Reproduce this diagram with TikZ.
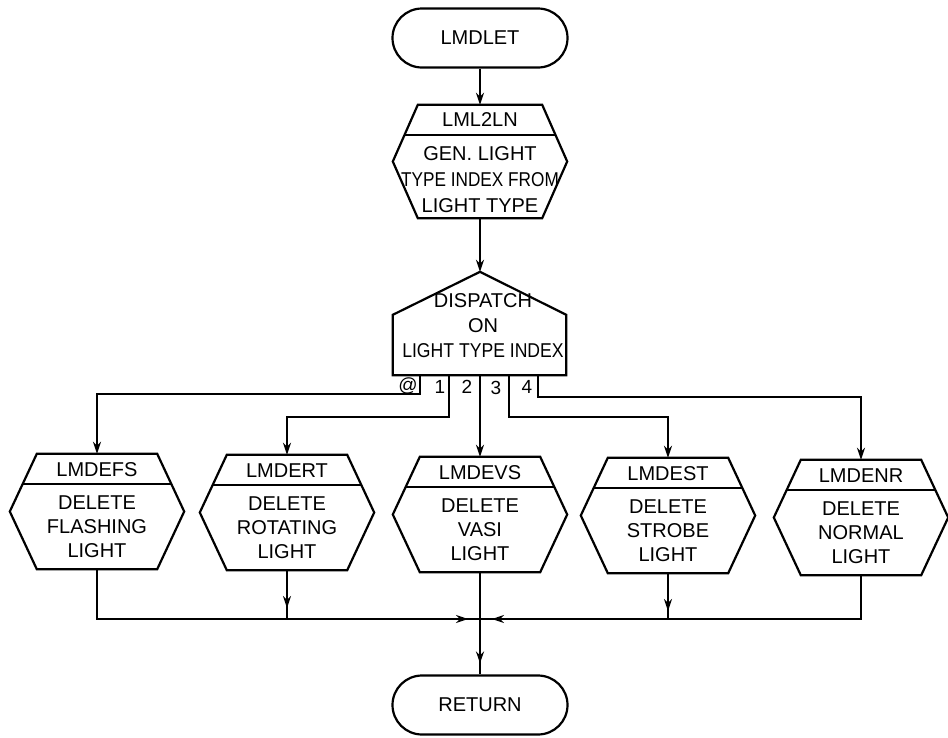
\documentclass[tikz,border=0pt]{standalone}
\usepackage{fontspec}
\setmainfont{Liberation Sans}
\usetikzlibrary{calc,arrows.meta,shapes.misc}

% Procedure box: hexagon with a title strip on top
\newcommand\hexproc[5]{%
  \node[hexcore] (#1) at (#2,#3) {};
  \draw[line] (#1.north west) -- (#1.north east) -- ($(#1.east)+(27,0)$)
    -- (#1.south east) -- (#1.south west) -- ($(#1.west)+(-27,0)$) -- cycle;
  \draw[line] ($(#1.north)+(-74,30)$) -- ($(#1.north)+(74,30)$);
  \node[lbl] (#1-title) at ($(#1.north)+(0,16)$) {#4};
  \node[lbl] (#1-text) at ($(#1.north)+(0,73)$) {#5};
}

\begin{document}
\begin{tikzpicture}[x=1pt,y=-1pt,
  line/.style={line width=2.2pt, line join=miter},
  tip/.style={-{Stealth[length=12pt,width=8pt]}},
  flow/.style={line, tip},
  term/.style={draw, line width=2.2pt, shape=rounded rectangle, minimum width=175pt,
    minimum height=59pt, inner sep=0pt, font=\fontsize{20}{24}\selectfont},
  hexcore/.style={minimum width=120pt, minimum height=115pt, inner sep=0pt},
  lbl/.style={font=\fontsize{20}{24}\selectfont, align=center, inner sep=0pt},
  idx/.style={font=\fontsize{19}{22}\selectfont, inner sep=0pt}
]
\useasboundingbox (0,0) rectangle (948,737);

% entry
\node[term] (start) at (480,38) {LMDLET};

% index generation
\node[minimum width=124pt, minimum height=113pt, inner sep=0pt] (gen) at (480,161.5) {};
\draw[line] (gen.north west) -- (gen.north east) -- ($(gen.east)+(25,0)$)
  -- (gen.south east) -- (gen.south west) -- ($(gen.west)+(-25,0)$) -- cycle;
\draw[line] ($(gen.north)+(-75,30)$) -- ($(gen.north)+(75,30)$);
\node[lbl] (gen-title) at ($(gen.north)+(0,15)$) {LML2LN};
\node[lbl, font=\fontsize{20}{26}\selectfont] (gen-text) at (480,180)
  {GEN. LIGHT\\\scalebox{0.86}[1]{TYPE INDEX FROM}\\LIGHT TYPE};

% dispatch
\node[minimum width=173pt, minimum height=60pt, inner sep=0pt] (disp) at (479.5,345) {};
\coordinate (disp-top) at ($(disp.north)+(0.5,-43)$);
\draw[line] (disp.south west) -- (disp.north west) -- (disp-top)
  -- (disp.north east) -- (disp.south east) -- cycle;
\node[lbl, font=\fontsize{20}{25}\selectfont] (disp-text) at (483,326)
  {DISPATCH\\ON\\\scalebox{0.88}[1]{LIGHT TYPE INDEX}};

% dispatch indices
\node[idx] (i0) at (408,386) {@};
\node[idx] (i1) at (440,387) {1};
\node[idx] (i2) at (467,387) {2};
\node[idx] (i3) at (496,388) {3};
\node[idx] (i4) at (527,387) {4};

% delete procedures
\hexproc{b1}{97}{511.5}{LMDEFS}{DELETE\\FLASHING\\LIGHT}
\hexproc{b2}{287}{512.5}{LMDERT}{DELETE\\ROTATING\\LIGHT}
\hexproc{b3}{480}{514.5}{LMDEVS}{DELETE\\VASI\\LIGHT}
\hexproc{b4}{668}{515.5}{LMDEST}{DELETE\\STROBE\\LIGHT}
\hexproc{b5}{861}{517.5}{LMDENR}{DELETE\\NORMAL\\LIGHT}

% exit
\node[term] (ret) at (480,705) {RETURN};

% top flow
\draw[flow] (start.south) -- (gen.north);
\draw[flow] (gen.south) -- (disp-top);

% dispatch branches
\draw[flow] ($(disp.south)+(-59.5,0)$) -- ++(0,19) -| (b1.north);
\draw[flow] ($(disp.south)+(-30.5,0)$) -- ++(0,42) -| (b2.north);
\draw[flow] (b3.north |- disp.south) -- (b3.north);
\draw[flow] ($(disp.south)+(29.5,0)$) -- ++(0,42) -| (b4.north);
\draw[flow] ($(disp.south)+(58.5,0)$) -- ++(0,22) -| (b5.north);

% collecting lines
\coordinate (jn) at (480,619);
\draw[line] (b1.south) |- (jn);
\draw[line, tip] (b1.south |- jn) -- ($(jn)+(-12,0)$);
\draw[line] (b2.south) -- (b2.south |- jn);
\draw[line, tip] (b2.south) -- ($(b2.south |- jn)+(0,-11)$);
\draw[line] (b4.south) -- (b4.south |- jn);
\draw[line, tip] (b4.south) -- ($(b4.south |- jn)+(0,-8)$);
\draw[line] (b5.south) |- (jn);
\draw[line, tip] (b5.south |- jn) -- ($(jn)+(12,0)$);
\draw[line] (b3.south) -- (ret.north);
\draw[line, tip] (b3.south) -- ($(ret.north)+(0,-11)$);
\end{tikzpicture}
\end{document}
